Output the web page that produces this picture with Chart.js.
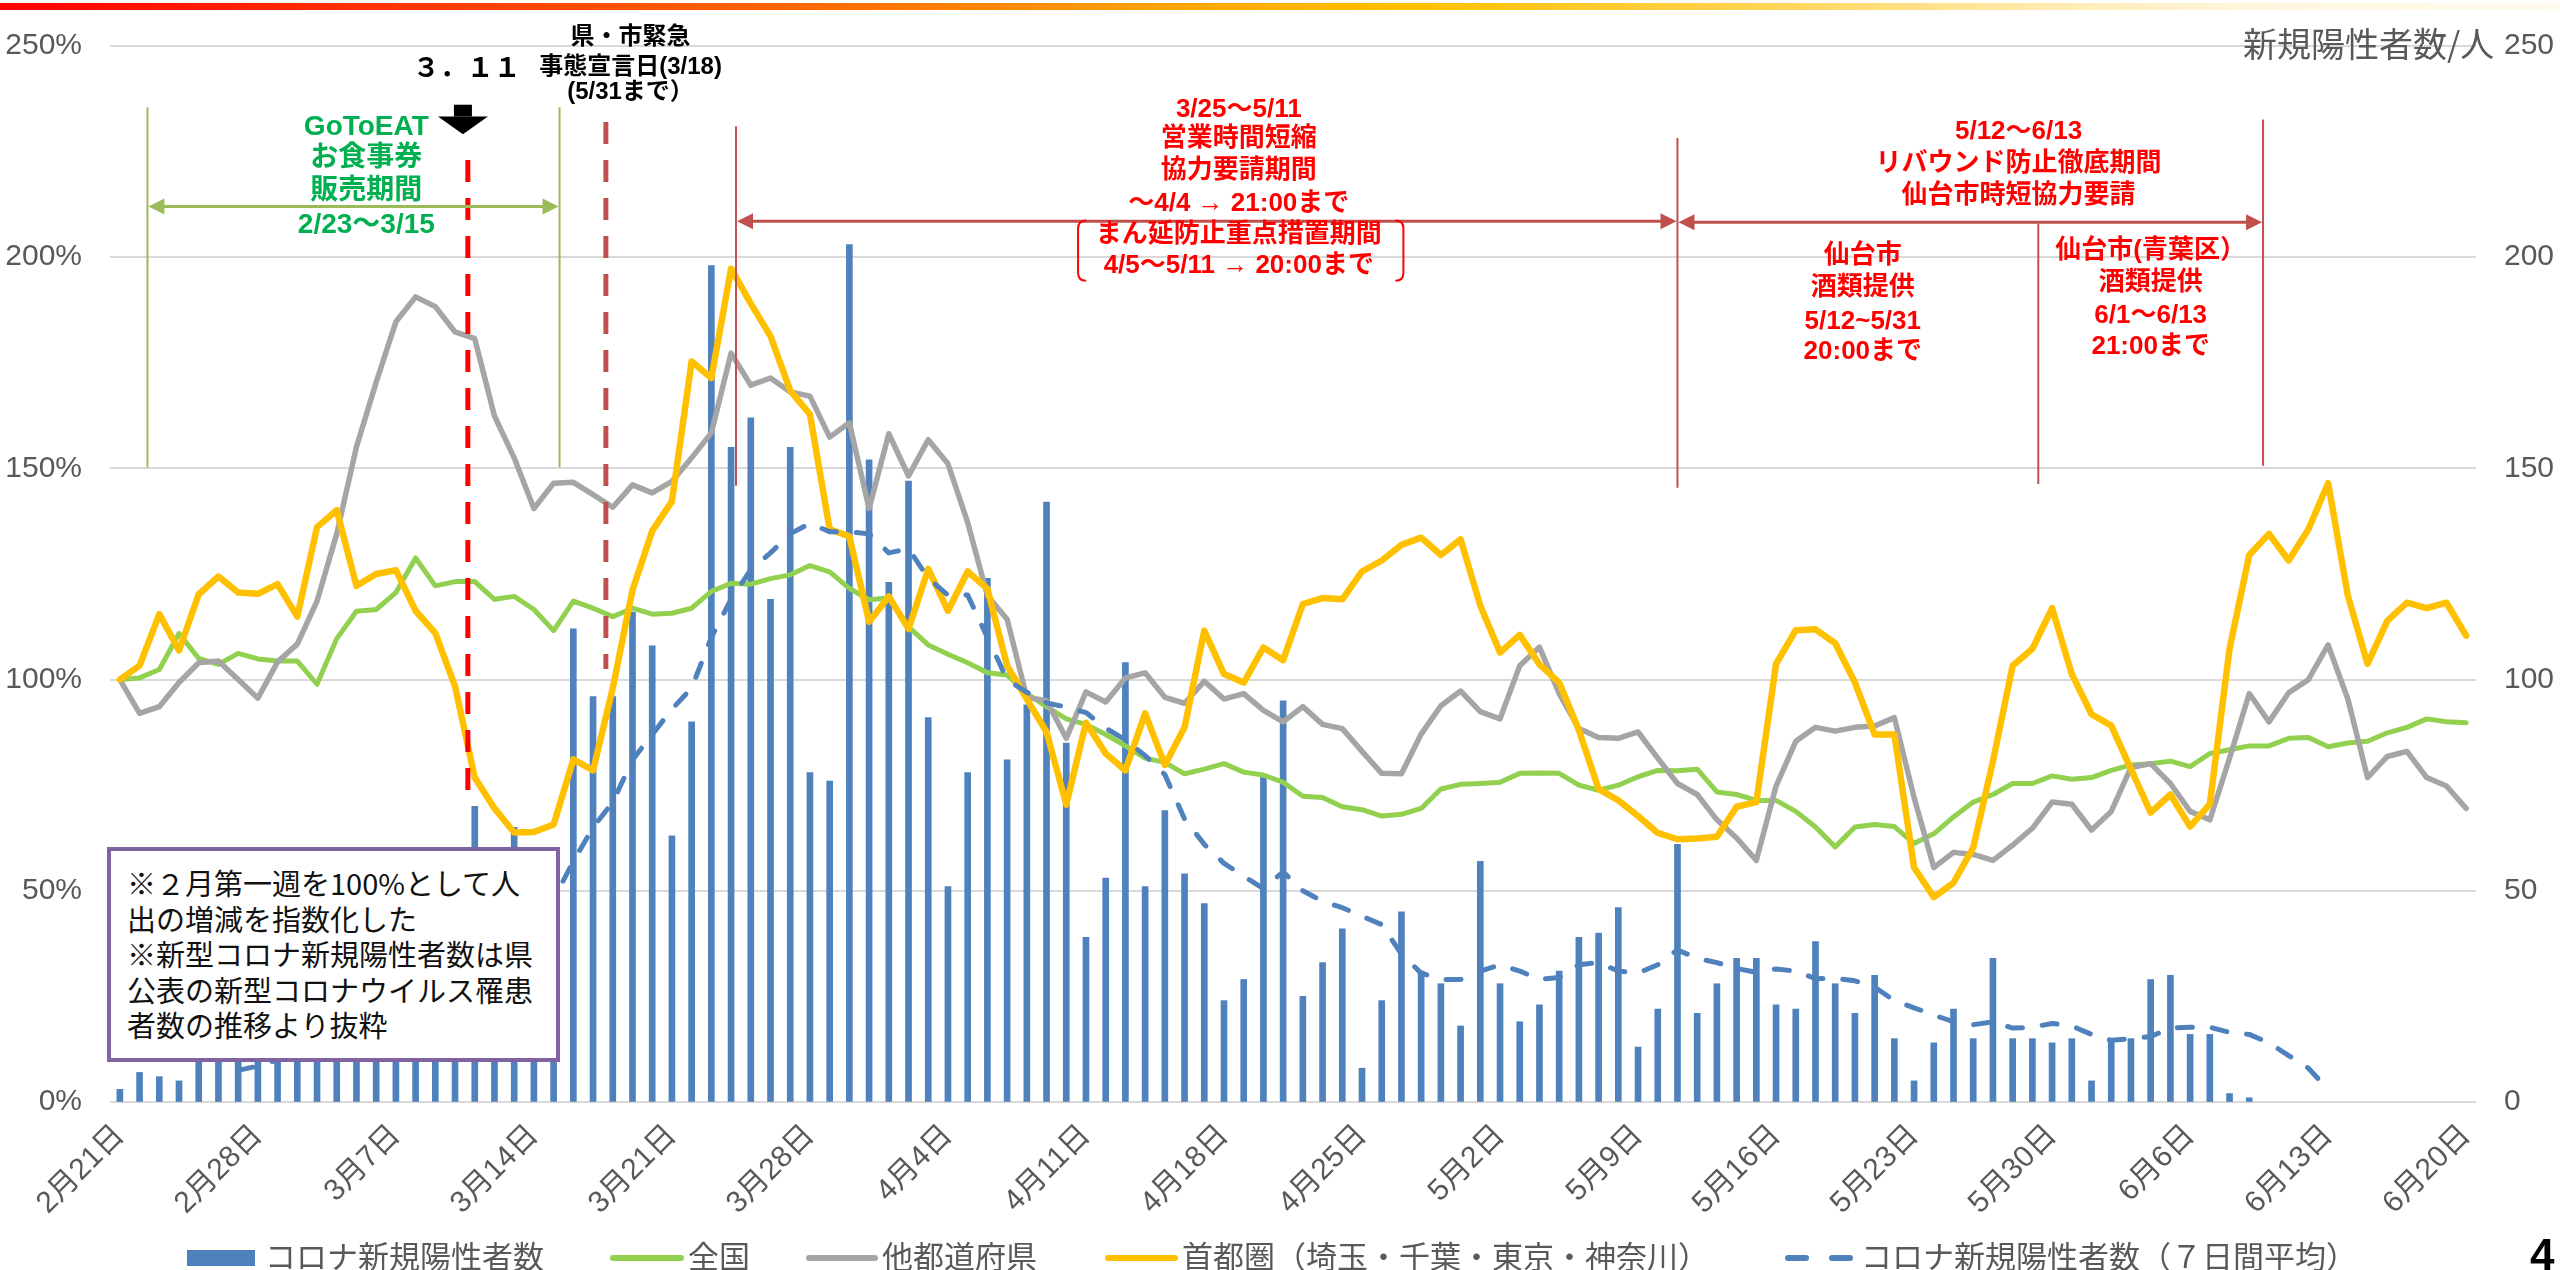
<!DOCTYPE html>
<html lang="ja">
<head>
<meta charset="UTF-8">
<title>人出の推移と新規陽性者数</title>
<script src="https://cdn.jsdelivr.net/npm/chart.js"></script>
<style>
  body { margin: 0; background: #fff; }
  #wrap { position: relative; width: 2560px; height: 1270px; overflow: hidden; font-family: "Noto Sans CJK JP", sans-serif; }
  #chart { position: absolute; left: 0; top: 0; }
  #topbar { position: absolute; left: 0; top: 3px; width: 2560px; height: 7px;
    background: linear-gradient(to right, #FF0000 0%, #FF3300 15%, #FF6A00 32%, #FFA200 45%, #FFC000 55%, #FFD24D 68%, #FFEBB0 80%, #FFF6DD 88%, #FFFBEF 100%); }
  #unit { position: absolute; left: 2243px; top: 24px; font-size: 34px; line-height: 38px; color: #595959; }
  #note { position: absolute; left: 107px; top: 847px; width: 453px; height: 215px; box-sizing: border-box;
    border: 4px solid #8064A2; background: #fff; padding: 14px 0 0 16px; font-size: 29px; line-height: 35.5px; color: #111; white-space: nowrap; }
  .key { position: absolute; }
  .lbl { position: absolute; top: 1236px; font-size: 31px; line-height: 38px; color: #595959; white-space: nowrap; }
  #page { position: absolute; left: 2530px; top: 1230px; font: bold 44px "Liberation Sans", sans-serif; color: #000; }
</style>
</head>
<body>
<div id="wrap">
  <canvas id="chart" width="2560" height="1270"></canvas>
  <div id="topbar"></div>
  <div id="unit">新規陽性者数/人</div>
  <div id="note">※２月第一週を100%として人<br>出の増減を指数化した<br>※新型コロナ新規陽性者数は県<br>公表の新型コロナウイルス罹患<br>者数の推移より抜粋</div>

  <div class="key" style="left:187px; top:1250px; width:68px; height:16px; background:#4F81BD;"></div>
  <div class="lbl" style="left:265px;">コロナ新規陽性者数</div>
  <div class="key" style="left:610px; top:1255px; width:74px; height:6px; border-radius:3px; background:#92D050;"></div>
  <div class="lbl" style="left:688px;">全国</div>
  <div class="key" style="left:806px; top:1255px; width:72px; height:6px; border-radius:3px; background:#A5A5A5;"></div>
  <div class="lbl" style="left:882px;">他都道府県</div>
  <div class="key" style="left:1105px; top:1255px; width:73px; height:6px; border-radius:3px; background:#FFC000;"></div>
  <div class="lbl" style="left:1182px;">首都圏（埼玉・千葉・東京・神奈川）</div>
  <div class="key" style="left:1785px; top:1255px; width:24px; height:6px; border-radius:3px; background:#4F81BD;"></div>
  <div class="key" style="left:1829px; top:1255px; width:24px; height:6px; border-radius:3px; background:#4F81BD;"></div>
  <div class="lbl" style="left:1861px;">コロナ新規陽性者数（７日間平均）</div>

  <div id="page">4</div>
</div>

<script>
// 日付ラベル（2/21〜6/20 の120日）
var monthDays = { 2: 28, 3: 31, 4: 30, 5: 31, 6: 30 };
var dateLabels = [];
for (var m = 2, d = 21; dateLabels.length < 120; ) {
  dateLabels.push(m + '月' + d + '日');
  d++;
  if (d > monthDays[m]) { m++; d = 1; }
}

// 新規陽性者数（人）
var positives = [
  3, 7, 6, 5, 12, 14, 13, 11, 15, 18, 16, 20, 22, 25, 28, 35, 40, 45, 70, 40,
  65, 42, 50, 112, 96, 96, 116, 108, 63, 90, 198, 155, 162, 119, 155, 78, 76, 203, 152, 123,
  147, 91, 51, 78, 124, 81, 94, 142, 85, 39, 53, 104, 51, 69, 54, 47, 24, 29, 77, 95,
  25, 33, 41, 8, 24, 45, 31, 28, 18, 57, 28, 19, 23, 31, 39, 40, 46, 13, 22, 61,
  21, 28, 34, 34, 23, 22, 38, 28, 21, 30, 15, 5, 14, 22, 15, 34, 15, 15, 14, 15,
  5, 15, 15, 29, 30, 16, 16, 2, 1, null, null, null, null, null, null, null, null, null, null, null
];

// 新規陽性者数（７日間平均）
var avg7 = [
  null, null, null, null, null, null, 7.5, 8.5, 10, 11, 12, 14, 16, 18, 21, 24, 28, 32, 36, 39,
  42, 44, 48, 57, 65, 71, 81, 87, 93, 98, 110, 119, 126, 130, 134.5, 137, 135, 135, 134.5, 130,
  131, 124, 120, 120, 110, 100, 97, 94.5, 93.5, 92.2, 88.5, 85.7, 82, 77.5, 67, 61, 56.5, 53.5, 50.5, 54.5,
  50, 47.5, 46, 44, 42, 35, 30.5, 29, 29, 31, 32.5, 31, 29, 29.5, 32.5, 33, 31, 30.5, 32.5, 36,
  34, 33, 31.6, 30.7, 31.5, 31, 29.2, 29.3, 28.7, 27.2, 24, 22.3, 20.6, 19, 18.3, 19, 17.5, 17.7, 18.6, 18,
  16, 14.6, 15, 15.5, 17.5, 17.7, 17.7, 16.5, 16, 14, 11, 8, 3, null, null, null, null, null, null, null
];

// 人出（2月第一週=100%）
var zenkoku = [
  100, 100.4, 102.4, 110.9, 105.0, 103.6, 106.2, 104.9, 104.4, 104.4, 98.9, 109.7, 116.2, 116.6, 120.6, 128.8, 122.2, 123.2, 123.2, 119.0,
  119.7, 116.6, 111.6, 118.6, 116.9, 114.9, 116.9, 115.5, 115.7, 116.9, 120.9, 122.8, 122.6, 123.9, 124.8, 127.0, 125.5, 121.6, 118.9, 119.3,
  112.5, 108.2, 106.0, 104.0, 101.6, 101.1, 96.7, 93.6, 90.7, 89.4, 87.0, 84.3, 81.4, 80.4, 77.7, 78.8, 80.1, 78.1, 77.4, 75.7,
  72.4, 72.1, 69.9, 69.2, 67.7, 68.1, 69.5, 74.1, 75.2, 75.4, 75.7, 77.8, 77.9, 77.8, 75.0, 73.8, 75.0, 77.0, 78.5, 78.4,
  78.8, 73.4, 72.8, 71.4, 71.4, 68.8, 65.1, 60.4, 65.1, 65.7, 65.2, 61.2, 63.5, 67.5, 71.0, 72.8, 75.4, 75.4, 77.2, 76.4,
  76.8, 78.5, 79.8, 80.1, 80.7, 79.4, 82.5, 83.4, 84.3, 84.3, 86.1, 86.3, 84.1, 85.0, 85.4, 87.4, 88.7, 90.7, 90.0, 89.8
];

var tadofuken = [
  100, 92.0, 93.6, 99.3, 104.0, 104.4, 100, 95.6, 104.2, 108.4, 118.6, 134.5, 155.1, 170.4, 184.7, 190.6, 188.3, 182.3, 180.7, 162.4,
  152.5, 140.5, 146.5, 146.7, 143.8, 140.8, 146.1, 144.2, 146.9, 152.5, 158.4, 177.3, 169.7, 171.4, 168.1, 167.1, 157.4, 160.8, 140.5, 158.2,
  148.2, 156.8, 151.1, 137.2, 119.9, 114.3, 95.8, 95.0, 86.1, 97.1, 94.7, 100.4, 101.6, 95.8, 94.4, 99.6, 95.4, 96.7, 92.7, 90.0,
  93.6, 89.4, 88.4, 83.0, 77.8, 77.7, 87.1, 93.8, 97.3, 92.4, 90.7, 103.3, 107.7, 96.7, 88.4, 86.3, 86.1, 87.6, 81.4, 75.4,
  72.8, 66.8, 62.5, 57.2, 74.8, 85.4, 88.7, 87.8, 88.7, 89.0, 91.0, 72.1, 55.5, 59.1, 58.6, 57.2, 60.8, 64.8, 71.0, 70.5,
  64.4, 68.8, 79.2, 80.1, 75.4, 68.8, 66.8, 81.4, 96.7, 90.0, 96.9, 100, 108.2, 95.4, 76.8, 81.8, 83.0, 76.8, 74.8, 69.5
];

var shutoken = [
  100, 103.3, 115.5, 106.9, 120.2, 124.4, 120.6, 120.3, 122.6, 114.9, 136.1, 140.1, 122.2, 125.0, 125.9, 116.3, 111.0, 98.4, 76.8, 69.5,
  63.8, 63.9, 65.7, 81.1, 78.5, 98.0, 121.2, 135.2, 142.2, 175.3, 171.4, 197.3, 189.0, 181.3, 168.4, 162.8, 135.6, 133.9, 113.7, 119.7,
  112.0, 126.2, 116.3, 125.6, 121.5, 103.3, 95.4, 87.6, 70.4, 89.8, 82.5, 78.5, 92.0, 79.8, 88.7, 111.6, 101.3, 99.3, 107.6, 104.6,
  117.9, 119.3, 119.0, 125.6, 128.2, 131.9, 133.6, 129.5, 133.2, 117.5, 106.4, 110.6, 103.6, 99.3, 88.0, 74.1, 71.4, 67.7, 63.7, 62.2,
  62.4, 62.8, 69.9, 71.0, 103.7, 111.7, 111.9, 108.6, 99.3, 87.0, 87.0, 55.5, 48.5, 51.9, 60.2, 80.7, 103.3, 107.3, 116.9, 101.3,
  91.8, 89.1, 78.8, 68.5, 72.8, 65.2, 70.5, 107.3, 129.5, 134.5, 128.2, 135.6, 146.5, 119.9, 103.7, 113.9, 118.2, 116.9, 118.2, 110.4
];

// 注記の位置（d は 2/21 を 0 とした日数、v は左軸の%）
var vLines = [
  { d: 1.4, top: 235.5, bottom: 150.3, color: '#9BBB59', width: 2 },
  { d: 22.3, top: 235.5, bottom: 150.3, color: '#9BBB59', width: 2 },
  { d: 17.65, top: 223, bottom: 70.8, color: '#FF0000', width: 5, dash: [22, 16] },
  { d: 24.65, top: 232, bottom: 102.5, color: '#C0504D', width: 5, dash: [22, 16] },
  { d: 31.25, top: 231, bottom: 145.9, color: '#C0504D', width: 2 },
  { d: 79.0, top: 228.2, bottom: 145.4, color: '#C0504D', width: 2 },
  { d: 97.3, top: 208, bottom: 146.3, color: '#C0504D', width: 2 },
  { d: 108.7, top: 232.6, bottom: 150.6, color: '#C0504D', width: 2 }
];

var spans = [
  { from: 1.4, to: 22.3, v: 212, color: '#9BBB59', width: 3 },
  { from: 31.25, to: 79.0, v: 208.5, color: '#C0504D', width: 3 },
  { from: 79.0, to: 108.7, v: 208.3, color: '#C0504D', width: 3 }
];

var textBlocks = [
  { d: 12.5, color: '#00B050', font: 'bold 28px "Liberation Sans", "Noto Sans CJK JP"',
    lines: [['GoToEAT', 230.8], ['お食事券', 223.3], ['販売期間', 215.6], ['2/23～3/15', 207.6]] },
  { d: 17.6, color: '#000', font: 'bold 27px "Noto Sans CJK JP"', lines: [['３．１１', 245]] },
  { d: 25.9, color: '#000', font: 'bold 24px "Liberation Sans", "Noto Sans CJK JP"',
    lines: [['県・市緊急', 252], ['事態宣言日(3/18)', 245], ['(5/31まで）', 239]] },
  { d: 56.75, color: '#FF0000', font: 'bold 26px "Liberation Sans", "Noto Sans CJK JP"',
    lines: [['3/25～5/11', 235], ['営業時間短縮', 228], ['協力要請期間', 220.4], ['～4/4 → 21:00まで', 212.7],
            ['まん延防止重点措置期間', 205.2], ['4/5～5/11 → 20:00まで', 197.9]] },
  { d: 96.3, color: '#FF0000', font: 'bold 26px "Liberation Sans", "Noto Sans CJK JP"',
    lines: [['5/12～6/13', 229.6], ['リバウンド防止徹底期間', 222.1], ['仙台市時短協力要請', 214.6]] },
  { d: 88.4, color: '#FF0000', font: 'bold 26px "Liberation Sans", "Noto Sans CJK JP"',
    lines: [['仙台市', 200.3], ['酒類提供', 192.8], ['5/12~5/31', 184.6], ['20:00まで', 177.5]] },
  { d: 103, color: '#FF0000', font: 'bold 26px "Liberation Sans", "Noto Sans CJK JP"',
    lines: [['仙台市(青葉区）', 201.4], ['酒類提供', 193.9], ['6/1～6/13', 186.2], ['21:00まで', 178.7]] }
];

var notesPlugin = {
  id: 'notes',
  afterDatasetsDraw: function (chart) {
    var ctx = chart.ctx;
    var X = function (d) { return chart.scales.x.getPixelForValue(d); };
    var Y = function (v) { return chart.scales.y.getPixelForValue(v); };
    ctx.save();

    vLines.forEach(function (l) {
      ctx.beginPath();
      ctx.strokeStyle = l.color;
      ctx.lineWidth = l.width;
      ctx.setLineDash(l.dash || []);
      ctx.moveTo(X(l.d), Y(l.top));
      ctx.lineTo(X(l.d), Y(l.bottom));
      ctx.stroke();
    });
    ctx.setLineDash([]);

    function head(x, y, dir, color) {
      ctx.beginPath();
      ctx.fillStyle = color;
      ctx.moveTo(x, y);
      ctx.lineTo(x - dir * 16, y - 8);
      ctx.lineTo(x - dir * 16, y + 8);
      ctx.closePath();
      ctx.fill();
    }
    spans.forEach(function (s) {
      var x1 = X(s.from), x2 = X(s.to), y = Y(s.v);
      ctx.beginPath();
      ctx.strokeStyle = s.color;
      ctx.lineWidth = s.width;
      ctx.moveTo(x1 + 10, y);
      ctx.lineTo(x2 - 10, y);
      ctx.stroke();
      head(x1 + 1, y, -1, s.color);
      head(x2 - 1, y, 1, s.color);
    });

    // まん延防止の括弧
    ctx.strokeStyle = '#FF0000';
    ctx.lineWidth = 2;
    [[48.6, 1], [65.1, -1]].forEach(function (b) {
      var x = X(b[0]), t = Y(208.7), btm = Y(194.4), k = b[1];
      ctx.beginPath();
      ctx.moveTo(x + k * 8, t);
      ctx.quadraticCurveTo(x, t, x, t + 8);
      ctx.lineTo(x, btm - 8);
      ctx.quadraticCurveTo(x, btm, x + k * 8, btm);
      ctx.stroke();
    });

    // 3.11 の黒い矢印
    var ax = X(17.4);
    ctx.fillStyle = '#000';
    ctx.fillRect(ax - 9, Y(236.1), 18, Y(233.3) - Y(236.1));
    ctx.beginPath();
    ctx.moveTo(ax - 25, Y(233.3));
    ctx.lineTo(ax + 25, Y(233.3));
    ctx.lineTo(ax, Y(229.1));
    ctx.closePath();
    ctx.fill();

    ctx.textAlign = 'center';
    ctx.textBaseline = 'middle';
    textBlocks.forEach(function (b) {
      ctx.font = b.font;
      ctx.fillStyle = b.color;
      b.lines.forEach(function (ln) { ctx.fillText(ln[0], X(b.d), Y(ln[1])); });
    });
    ctx.restore();
  }
};

Chart.defaults.font.family = '"Liberation Sans", "Noto Sans CJK JP", sans-serif';
Chart.defaults.color = '#595959';

var lineBase = { type: 'line', pointRadius: 0, tension: 0, borderJoinStyle: 'round', borderCapStyle: 'round', yAxisID: 'y' };

var grafico = new Chart(document.getElementById('chart'), {
  data: {
    labels: dateLabels,
    datasets: [
      Object.assign({}, lineBase, { label: 'コロナ新規陽性者数（７日間平均）', data: avg7, yAxisID: 'y1',
        borderColor: '#4F81BD', borderWidth: 5, borderDash: [15, 20], order: 1 }),
      Object.assign({}, lineBase, { label: '首都圏（埼玉・千葉・東京・神奈川）', data: shutoken,
        borderColor: '#FFC000', borderWidth: 6.5, order: 2 }),
      Object.assign({}, lineBase, { label: '他都道府県', data: tadofuken,
        borderColor: '#A5A5A5', borderWidth: 5.5, order: 3 }),
      Object.assign({}, lineBase, { label: '全国', data: zenkoku,
        borderColor: '#92D050', borderWidth: 5, order: 4 }),
      { type: 'bar', label: 'コロナ新規陽性者数', data: positives, yAxisID: 'y1',
        backgroundColor: '#4F81BD', barThickness: 6, order: 5 }
    ]
  },
  options: {
    responsive: false,
    animation: false,
    devicePixelRatio: 1,
    layout: { padding: { top: 36 } },
    plugins: { legend: { display: false }, tooltip: { enabled: false } },
    scales: {
      x: {
        grid: { display: false },
        border: { display: false },
        ticks: {
          autoSkip: false, maxRotation: 45, minRotation: 45, padding: 8,
          font: { size: 30 },
          callback: function (v, i) { return i % 7 === 0 ? dateLabels[i] : ''; }
        },
        afterFit: function (s) { s.height = 168; }
      },
      y: {
        position: 'left', min: 0, max: 250,
        ticks: { stepSize: 50, padding: 28, font: { size: 30 }, callback: function (v) { return v + '%'; } },
        grid: { color: '#D9D9D9', lineWidth: 2, drawTicks: false },
        border: { display: false },
        afterFit: function (s) { s.width = 110; }
      },
      y1: {
        position: 'right', min: 0, max: 250,
        ticks: { stepSize: 50, padding: 28, font: { size: 30 } },
        grid: { drawOnChartArea: false, drawTicks: false },
        border: { display: false },
        afterFit: function (s) { s.width = 84; }
      }
    }
  },
  plugins: [notesPlugin]
});
</script>
</body>
</html>
